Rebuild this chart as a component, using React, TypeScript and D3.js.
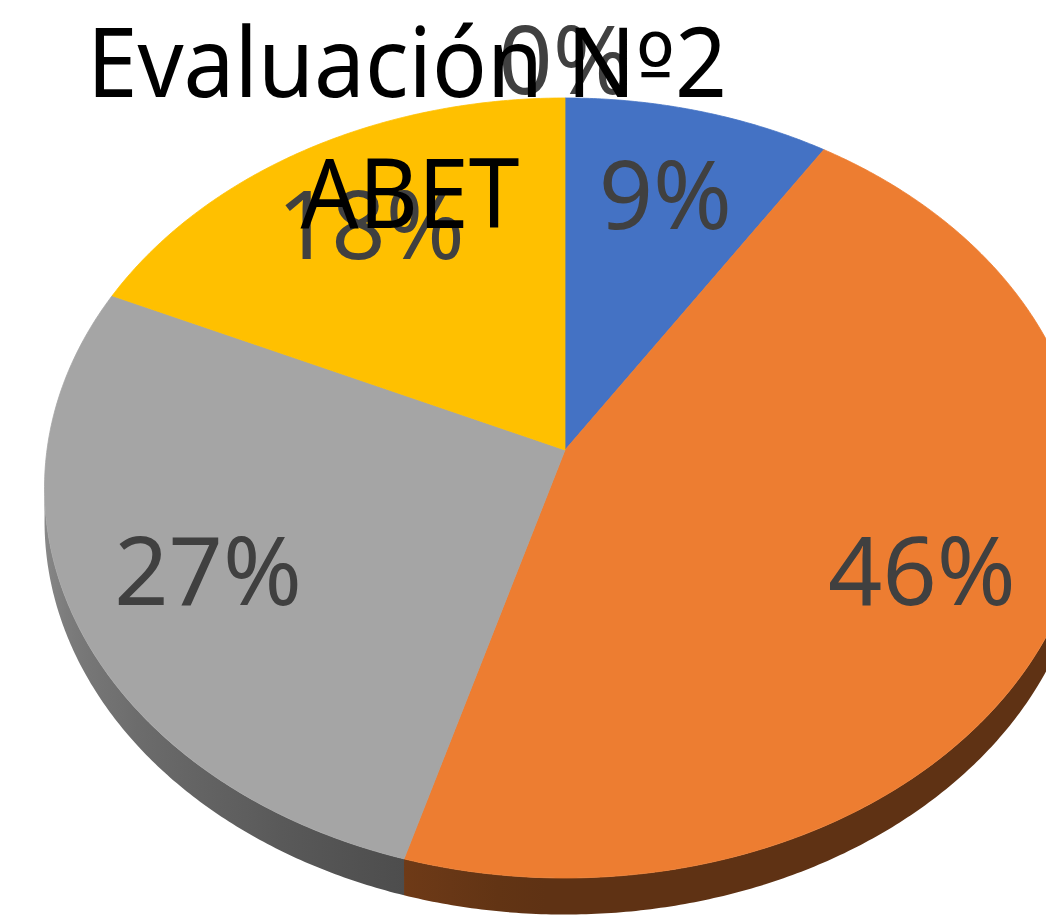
import React from "react";
import * as d3 from "d3";

// ---- data ----
const categories = ["Nivel 1", "Nivel 2", "Nivel 3", "Nivel 4", "Nivel 5"];
const values = [9.1, 45.5, 27.3, 18.2, 0]; // percentages
const colors = ["#4472c4", "#ed7d31", "#a5a5a5", "#ffc000", "#5b9bd5"];
const titleMain = "Evaluación N";
const titleOrd = "º";
const titleNum = "2";
const titleSub = "ABET";

// ---- layout ----
const W = 1046;
const H = 915;
const CX = 565;
const CY = 450;
const RX = 518;
const RY = 386.3;
const PERSP = 0.0974;
const DEPTH = 33;
const LABEL_FONT = 95;
const TITLE_FONT = 97;
const FONT = "'Noto Sans', 'Open Sans', sans-serif";

function project(theta: number, rho: number, drop = 0): [number, number] {
  const u = rho * Math.sin(theta);
  const v = rho * Math.cos(theta);
  const w = 1 + PERSP * v;
  return [CX + (RX * u) / w, CY - (RY * v) / w + drop / w];
}

const shade = d3
  .scaleLinear<number>()
  .domain([184, 196.4, 265])
  .range([0.4, 0.465, 0.85])
  .clamp(true);

function darken(color: string, f: number) {
  const c = d3.rgb(color);
  return d3.rgb(c.r * f, c.g * f, c.b * f).formatHex();
}

const deg = (r: number) => (r * 180) / Math.PI;
const rad = (d: number) => (d * Math.PI) / 180;

export default function App() {
  const pie = d3
    .pie<number>()
    .sort(null)
    .startAngle(0)
    .endAngle(2 * Math.PI)
    .value((d) => d);
  const arcs = pie(values);
  const fmt = d3.format(".0%");
  const line = d3.line();
  const step = Math.PI / 360;

  const rim = (a0: number, a1: number, drop = 0) => {
    const n = Math.max(2, Math.ceil(Math.abs(a1 - a0) / step));
    return d3.range(n + 1).map((k) => project(a0 + ((a1 - a0) * k) / n, 1, drop));
  };

  // side walls with horizontal gradients
  const sideMin = rad(100);
  const sideMax = rad(265);
  const defs: JSX.Element[] = [];
  const sides: JSX.Element[] = [];
  arcs.forEach((a, i) => {
    const a0 = Math.max(a.startAngle, sideMin);
    const a1 = Math.min(a.endAngle, sideMax);
    if (a1 <= a0) return;
    const x0 = project(a0, 1)[0];
    const x1 = project(a1, 1)[0];
    const samples = d3.range(0, 21).map((k) => a0 + ((a1 - a0) * k) / 20);
    const id = `side-grad-${i}`;
    defs.push(
      <linearGradient key={id} id={id} gradientUnits="userSpaceOnUse" x1={x0} y1={0} x2={x1} y2={0}>
        {samples.map((t, k) => (
          <stop
            key={k}
            offset={(project(t, 1)[0] - x0) / (x1 - x0)}
            stopColor={darken(colors[i], shade(deg(t)))}
          />
        ))}
      </linearGradient>
    );
    const pts = [...rim(a0, a1), ...rim(a1, a0, DEPTH)];
    sides.push(<path key={`s${i}`} d={line(pts) + "Z"} fill={`url(#${id})`} />);
  });

  // top faces
  const tops = arcs.map((a, i) => {
    if (a.endAngle - a.startAngle <= 0) return null;
    const pts: [number, number][] = [project(0, 0), ...rim(a.startAngle, a.endAngle)];
    return (
      <path
        key={`t${i}`}
        d={line(pts) + "Z"}
        fill={colors[i]}
        stroke={colors[i]}
        strokeWidth={0.8}
        strokeLinejoin="round"
      />
    );
  });

  // labels
  const labels = arcs.map((a, i) => {
    const mid = (a.startAngle + a.endAngle) / 2;
    const rho = values[i] > 0 ? 0.735 : 1.12;
    const [x, y] = project(mid, rho);
    return (
      <text
        key={`l${i}`}
        x={x}
        y={y + LABEL_FONT * 0.357}
        textAnchor="middle"
        fontFamily={FONT}
        fontSize={LABEL_FONT}
        fill="#404040"
      >
        {fmt(values[i] / 100)}
      </text>
    );
  });

  return (
    <svg
      width={W}
      height={H}
      viewBox={`0 0 ${W} ${H}`}
      style={{ position: "absolute", left: 0, top: 0, background: "#fff", overflow: "hidden" }}
    >
      <defs>{defs}</defs>
      <rect x={0} y={0} width={W} height={H} fill="#fff" />
      <g>{sides}</g>
      <g>{tops}</g>
      <g>{labels}</g>
      <g fontFamily={FONT} fontSize={TITLE_FONT} fill="#000" textAnchor="middle">
        <text x={407} y={97} textLength={640} lengthAdjust="spacingAndGlyphs">
          {titleMain}
          <tspan fontFamily="'DejaVu Sans', sans-serif" fontSize={TITLE_FONT * 0.92}>{titleOrd}</tspan>
          {titleNum}
        </text>
        <text x={410} y={228} textLength={219} lengthAdjust="spacingAndGlyphs">
          {titleSub}
        </text>
      </g>
    </svg>
  );
}
